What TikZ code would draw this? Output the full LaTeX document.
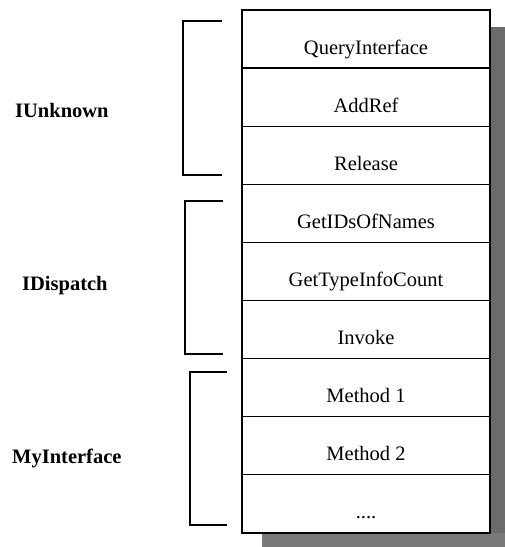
\documentclass[tikz,border=0pt]{standalone}
\usepackage{fontspec}
\setmainfont{Liberation Serif}
\begin{document}
\begin{tikzpicture}[x=1pt,y=-1pt,
  rowbox/.style={draw,line width=1.3pt,minimum width=248pt,minimum height=58.1pt,
    inner sep=0pt,text height=30pt,text depth=0pt,
    font=\fontsize{20.5}{24}\selectfont},
  grouplabel/.style={anchor=base west,inner sep=0pt,
    font=\fontsize{20.5}{24}\selectfont\bfseries},
  bracket/.style={line width=1.5pt}]
\useasboundingbox (0,0) rectangle (505,547);
% drop shadow of the table
\fill[black!58] (490,27) rectangle (505,547);
\fill[black!52] (262,533) rectangle (505,547);
\fill[white] (242,10) rectangle (490,533);
% vtable rows
\node[rowbox] (r1) at (366,39.05)  {QueryInterface};
\node[rowbox] (r2) at (366,97.15)  {AddRef};
\node[rowbox] (r3) at (366,155.25) {Release};
\node[rowbox] (r4) at (366,213.35) {GetIDsOfNames};
\node[rowbox] (r5) at (366,271.45) {GetTypeInfoCount};
\node[rowbox] (r6) at (366,329.55) {Invoke};
\node[rowbox] (r7) at (366,387.65) {Method 1};
\node[rowbox] (r8) at (366,445.75) {Method 2};
\node[rowbox] (r9) at (366,503.85) {....};
% interface brackets
\draw[bracket] (222,21) -- (183,21) -- (183,175) -- (222,175);
\draw[bracket] (223,201) -- (185,201) -- (185,354) -- (223,354);
\draw[bracket] (227,372) -- (190,372) -- (190,525) -- (227,525);
% interface names
\node[grouplabel] (iunk) at (15,117) {IUnknown};
\node[grouplabel] (idisp) at (22,290) {IDispatch};
\node[grouplabel] (myif) at (12,463) {MyInterface};
\end{tikzpicture}
\end{document}
